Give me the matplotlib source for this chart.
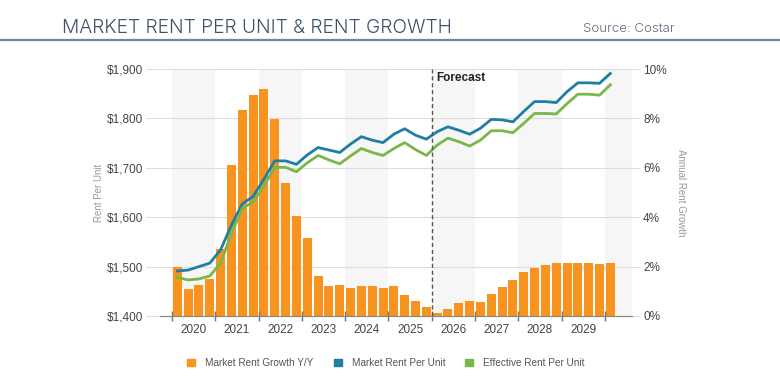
import numpy as np
import matplotlib.pyplot as plt
from matplotlib.patches import Patch

plt.rcParams['font.family'] = ['Liberation Sans', 'DejaVu Sans']

###############################################################################
# Quarterly data, 2020 Q1 through 2030 Q1.
###############################################################################
years = [2020, 2021, 2022, 2023, 2024, 2025, 2026, 2027, 2028, 2029]

rent_growth = [2.00, 1.08, 1.24, 1.48,
               2.71, 6.11, 8.34, 8.95,
               9.18, 7.96, 5.37, 4.06,
               3.17, 1.63, 1.21, 1.27,
               1.15, 1.23, 1.20, 1.15,
               1.21, 0.85, 0.59, 0.35,
               0.11, 0.27, 0.53, 0.61,
               0.57, 0.88, 1.17, 1.47,
               1.78, 1.93, 2.08, 2.16,
               2.15, 2.13, 2.13, 2.09,
               2.13]

market_rent = [1491, 1493, 1500, 1507,
               1534, 1584, 1627, 1642,
               1677, 1714, 1714, 1707,
               1726, 1741, 1736, 1731,
               1748, 1763, 1756, 1751,
               1768, 1779, 1766, 1758,
               1773, 1783, 1776, 1768,
               1780, 1798, 1797, 1793,
               1814, 1834, 1834, 1832,
               1854, 1872, 1872, 1871,
               1891]

effective_rent = [1478, 1473, 1475, 1481,
                  1507, 1567, 1618, 1631,
                  1663, 1701, 1701, 1692,
                  1710, 1725, 1716, 1708,
                  1724, 1739, 1731, 1725,
                  1739, 1751, 1737, 1725,
                  1746, 1760, 1753, 1744,
                  1756, 1775, 1775, 1771,
                  1790, 1810, 1810, 1809,
                  1830, 1849, 1849, 1847,
                  1868]

forecast_start = 2026

ORANGE = "#F7931E"
BLUE = "#1F7EA1"
GREEN = "#7AB648"
TITLE_COL = "#3F5068"

x = np.arange(len(rent_growth))

fig = plt.figure(figsize=(7.8, 3.9), dpi=100)

# header
fig.text(62 / 780, 1 - 28 / 390, "MARKET RENT PER UNIT & RENT GROWTH",
         fontsize=13.8, color=TITLE_COL, family=['Inter', 'DejaVu Sans'],
         fontweight=300, va='center', ha='left')
fig.text(675 / 780, 1 - 29 / 390, "Source: Costar", fontsize=9.5,
         color="#5f6b7a", family=['Inter', 'DejaVu Sans'], fontweight=300,
         va='center', ha='right')
fig.add_artist(plt.Line2D([0, 1], [1 - 40 / 390, 1 - 40 / 390],
                          color="#6E84A0", lw=1.6, transform=fig.transFigure))

ax = fig.add_axes([160 / 780, 74 / 390, 472 / 780, 247 / 390])
ax2 = ax.twinx()

# alternating year bands (on the bar axes, behind everything)
for k, yr in enumerate(years + [2030]):
    if k % 2 == 0:
        ax2.axvspan(4 * k - 0.5, 4 * k + 3.5, color="#F6F6F6", zorder=0.2, lw=0)

ax2.bar(x, rent_growth, width=0.83, color=ORANGE, zorder=2)
ax.plot(x, market_rent, color=BLUE, lw=2, zorder=4)
ax.plot(x, effective_rent, color=GREEN, lw=2, zorder=4)

# lines above bars
ax.set_zorder(ax2.get_zorder() + 1)
ax.patch.set_visible(False)

ax.set_xlim(-1.6, 42)
ax.set_ylim(1400, 1900)
ax2.set_ylim(0, 10)

ax.set_yticks(np.arange(1400, 1901, 100))
ax.set_yticklabels(["${:,}".format(v) for v in range(1400, 1901, 100)])
ax2.set_yticks(np.arange(0, 11, 2))
ax2.set_yticklabels(["{}%".format(v) for v in range(0, 11, 2)])
ax2.yaxis.grid(True, color="#DDDDDD", lw=0.8, zorder=0.5)
ax2.set_axisbelow(True)

ax.set_xticks([4 * k - 0.5 for k in range(len(years) + 1)])
ax.set_xticklabels([])
ax.set_xticks([4 * k + 1.5 for k in range(len(years))], minor=True)
ax.set_xticklabels([str(y) for y in years], minor=True)
ax.tick_params(axis='x', which='major', direction='inout', length=7,
               color="#777777", width=1)
ax.tick_params(axis='x', which='minor', length=0, pad=6,
               labelsize=8.5, labelcolor="#444444")
ax.tick_params(axis='y', length=10, color="#DDDDDD", width=0.8,
               labelsize=8.5, labelcolor="#444444", pad=2)
ax2.tick_params(axis='y', length=6, color="#DDDDDD", width=0.8,
                labelsize=8.5, labelcolor="#444444", pad=2)

for a in (ax, ax2):
    for s in ("top", "left", "right"):
        a.spines[s].set_visible(False)
    a.spines["bottom"].set_color("#888888")

ax.set_ylabel("Rent Per Unit", fontsize=7, color="#999999", labelpad=2)
ax2.set_ylabel("Annual Rent Growth", fontsize=7, color="#999999",
               rotation=270, labelpad=14)

# forecast marker
fx = 4 * (forecast_start - years[0]) - 0.5
ax.axvline(fx, color="#555555", lw=1, ls=(0, (3, 2)), zorder=5)
ax.text(fx + 0.4, 1893, "Forecast", fontsize=8.5, fontweight='bold',
        va='top', ha='left', color="#222222")

handles = [Patch(color=ORANGE, label="Market Rent Growth Y/Y"),
           Patch(color=BLUE, label="Market Rent Per Unit"),
           Patch(color=GREEN, label="Effective Rent Per Unit")]
fig.legend(handles=handles, loc='center', bbox_to_anchor=(0.495, 1 - 363 / 390),
           ncol=3, frameon=False, fontsize=7.2, labelcolor="#555555",
           handlelength=0.8, handleheight=0.8, columnspacing=2.0,
           handletextpad=1.0)

fig.savefig("out.png", dpi=100)
